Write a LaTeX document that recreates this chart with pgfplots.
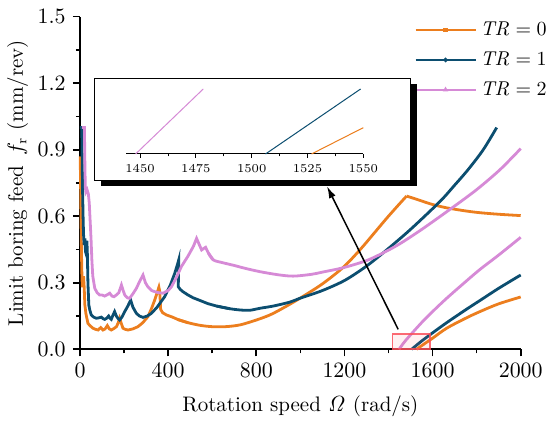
\documentclass[border=0pt]{standalone}
\usepackage{pgfplots}
\pgfplotsset{compat=1.18}
\usetikzlibrary{arrows.meta}
\definecolor{cOr}{RGB}{236,126,30}
\definecolor{cBl}{RGB}{12,78,112}
\definecolor{cPk}{RGB}{214,138,214}
\definecolor{cRd}{RGB}{250,80,90}
\begin{document}
\fontsize{10.5}{12.5}\selectfont
\begin{tikzpicture}
\useasboundingbox (0,0) rectangle (275pt,210.5pt);
\begin{axis}[
  at={(40pt,35.85pt)}, anchor=south west, scale only axis,
  width=220.35pt, height=166.3pt,
  xmin=0, xmax=2000, ymin=0, ymax=1.5,
  axis x line*=bottom, axis y line*=left,
  axis line style={line width=0.8pt},
  xtick={0,400,...,2000}, ytick={0,0.3,0.6,0.9,1.2,1.5},
  minor x tick num=1, minor y tick num=1,
  tick align=outside, major tick length=3.5pt, minor tick length=2pt,
  tick style={line width=0.8pt, black},
  yticklabel style={/pgf/number format/.cd, fixed, fixed zerofill, precision=1},
  xticklabel style={/pgf/number format/1000 sep={}},
  tick label style={font=\fontsize{10.5}{12.5}\selectfont},
  label style={font=\fontsize{10.5}{12.5}\selectfont},
  xlabel={Rotation speed $\mathit{\Omega}$ (rad/s)},
  ylabel={Limit boring feed\, $f_{\mathrm{r}}$ (mm/rev)},
  xlabel style={yshift=-2pt},
  ylabel style={yshift=-2.5pt},
  legend style={draw=none, fill=none, at={(0.745,1.01)}, anchor=north west,
    font=\fontsize{10}{12}\selectfont, row sep=2.5pt},
  legend cell align=left,
  legend image code/.code={\draw[#1, line width=0.8pt, mark repeat=2, mark phase=2]
     plot coordinates {(0pt,0pt) (15pt,0pt) (30pt,0pt)};},
  every axis plot/.append style={line width=1.4pt, forget plot},
  clip=false,
]
\addlegendimage{cOr, mark=square*, mark size=0.7pt}
\addlegendentry{$\mathit{TR}=0$}
\addlegendimage{cBl, mark=*, mark size=0.7pt}
\addlegendentry{$\mathit{TR}=1$}
\addlegendimage{cPk, mark=triangle*, mark size=0.8pt}
\addlegendentry{$\mathit{TR}=2$}
% TR = 0
\addplot[cOr] coordinates {
(1,0.87)(3,0.72)(5,0.56)(7,0.42)(9,0.32)(11,0.28)(13,0.3)(16,0.33)(19,0.28)(22,0.2)(27,0.16)(36,0.117)(47,0.105)(59,0.095)(70,0.09)(82,0.087)(94,0.098)(104,0.087)(114,0.092)(124,0.107)(133,0.092)(142,0.087)(153,0.093)(165,0.102)(173,0.118)(180,0.14)(187,0.118)(195,0.095)(205,0.09)(218,0.087)(240,0.092)(263,0.102)(285,0.12)(308,0.147)(325,0.185)(339,0.222)(350,0.255)(358,0.28)(362,0.26)(366,0.18)(375,0.165)(392,0.155)(420,0.145)(445,0.134)(490,0.12)
};
\addplot[cOr, smooth, tension=0.5] coordinates {
(445,0.134)(490,0.12)(545,0.108)(600,0.102)(660,0.102)(726,0.11)(800,0.132)(862,0.155)(920,0.185)(998,0.23)(1100,0.295)(1195,0.37)(1270,0.448)(1330,0.518)(1391,0.59)(1440,0.645)(1482,0.691)
};
\addplot[cOr, smooth, tension=0.5] coordinates {
(1482,0.691)(1520,0.679)(1550,0.669)(1600,0.653)(1664,0.638)(1750,0.624)(1815,0.616)(1900,0.609)(2000,0.603)
};
% TR = 1
\addplot[cBl] coordinates {
(0,1.0)(8,1.0)(10,0.85)(12,0.7)(14,0.6)(16,0.52)(19,0.47)(22,0.5)(25,0.44)(28,0.43)(31,0.49)(33,0.45)(36,0.3)(40,0.2)(45,0.175)(51,0.155)(62,0.145)(74,0.14)(86,0.142)(97,0.145)(105,0.138)(112,0.135)(121,0.14)(130,0.15)(136,0.14)(142,0.135)(150,0.155)(157,0.17)(165,0.15)(172,0.14)(180,0.132)(190,0.145)(203,0.17)(217,0.195)(230,0.222)(240,0.19)(256,0.162)(270,0.15)(286,0.144)(305,0.15)(324,0.162)(350,0.19)(384,0.237)(410,0.29)(430,0.343)(443,0.385)(448,0.403)(446,0.282)(455,0.27)(467,0.26)(490,0.245)(514,0.232)(545,0.22)(580,0.206)(620,0.195)(680,0.183)
};
\addplot[cBl, smooth, tension=0.5] coordinates {
(620,0.195)(680,0.183)(730,0.177)(771,0.176)(817,0.185)(877,0.195)(953,0.213)(998,0.23)(1100,0.265)(1200,0.31)(1293,0.37)(1376,0.435)(1497,0.538)(1633,0.666)(1700,0.74)(1761,0.81)(1830,0.9)(1891,1.0)
};
% TR = 2
\addplot[cPk] coordinates {
(8,1.0)(20,1.0)(22,0.85)(24,0.73)(27,0.71)(32,0.72)(38,0.7)(42,0.66)(46,0.58)(50,0.5)(54,0.4)(58,0.33)(67,0.275)(78,0.255)(89,0.245)(100,0.245)(112,0.24)(122,0.245)(135,0.253)(145,0.24)(154,0.237)(165,0.245)(176,0.255)(188,0.29)(196,0.265)(203,0.245)(215,0.232)(225,0.23)(240,0.25)(256,0.275)(270,0.305)(286,0.335)(297,0.3)(308,0.282)(325,0.265)(339,0.26)(358,0.255)(377,0.253)(400,0.265)(415,0.282)(438,0.325)(460,0.373)(490,0.42)(515,0.465)(529,0.5)(540,0.475)(552,0.448)(562,0.455)(570,0.46)(582,0.435)(605,0.403)
};
\addplot[cPk, smooth, tension=0.5] coordinates {
(582,0.435)(605,0.403)(650,0.39)(700,0.378)(750,0.365)(817,0.35)(900,0.336)(968,0.33)(1050,0.338)(1100,0.348)(1195,0.368)(1300,0.4)(1376,0.435)(1450,0.475)(1550,0.54)(1686,0.636)(1800,0.72)(1906,0.81)(2000,0.905)
};
% second branches
\addplot[cOr, smooth, tension=0.5] coordinates {
(1527,0)(1550,0.016)(1600,0.05)(1664,0.095)(1750,0.14)(1815,0.17)(1900,0.205)(2000,0.236)};
\addplot[cBl, smooth, tension=0.5] coordinates {
(1505,0)(1549,0.036)(1600,0.074)(1664,0.12)(1750,0.178)(1815,0.22)(1900,0.275)(2000,0.335)};
\addplot[cPk, smooth, tension=0.5] coordinates {
(1448,0)(1478,0.04)(1550,0.12)(1600,0.17)(1664,0.23)(1750,0.305)(1815,0.36)(1900,0.425)(2000,0.505)};
% zoom box and arrow
\draw[cRd, draw opacity=0.85, line width=0.9pt, fill=cRd, fill opacity=0.08]
  (axis cs:1418,0) rectangle (axis cs:1588,0.068);
\draw[line width=0.75pt, -{Latex[length=6pt,width=3.5pt]}]
  (axis cs:1444,0.09) -- (axis cs:1121,0.735);
\end{axis}
% inset frame with shadow
\fill[black] (50.5pt,117.5pt) rectangle (208.5pt,168.5pt);
\draw[black, line width=0.5pt, fill=white] (47pt,120pt) rectangle (205pt,171pt);
\begin{axis}[
  at={(63pt,133.5pt)}, anchor=south west, scale only axis,
  width=118.65pt, height=32.5pt,
  xmin=1443.7, xmax=1550, ymin=0, ymax=0.04,
  axis x line*=bottom, axis y line=none,
  axis line style={line width=0.5pt},
  xtick={1450,1475,...,1550}, minor x tick num=1, ytick=\empty,
  tick align=outside, major tick length=1.8pt, minor tick length=1.2pt,
  tick style={line width=0.4pt, black},
  xticklabel style={/pgf/number format/1000 sep={}, font=\fontsize{6.2}{7}\selectfont},
  clip=false,
]
\addplot[cPk, line width=0.5pt] coordinates {(1448,0)(1478.3,0.04)};
\addplot[cBl, line width=0.5pt] coordinates {(1506.2,0)(1548.8,0.04)};
\addplot[cOr, line width=0.5pt] coordinates {(1526.8,0)(1550,0.0162)};
\end{axis}
\end{tikzpicture}
\end{document}
